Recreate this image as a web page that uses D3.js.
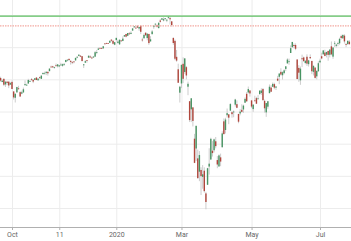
<!DOCTYPE html>
<html>
<head>
<meta charset="utf-8">
<script src="https://cdn.jsdelivr.net/npm/d3@7"></script>
<style>
  body { margin: 0; background: #fff; }
  svg { display: block; }
  .tick text { font-family: Roboto, "DejaVu Sans", sans-serif; }
</style>
</head>
<body>
<div id="chart"></div>
<script>
// daily bars, Sep 2019 - Jul 2020
const dates = [
  "2019-09-19","2019-09-20","2019-09-23","2019-09-24","2019-09-25","2019-09-26","2019-09-27","2019-09-30",
  "2019-10-01","2019-10-02","2019-10-03","2019-10-04","2019-10-07","2019-10-08","2019-10-09","2019-10-10","2019-10-11","2019-10-14","2019-10-15","2019-10-16","2019-10-17","2019-10-18","2019-10-21","2019-10-22","2019-10-23","2019-10-24","2019-10-25","2019-10-28","2019-10-29","2019-10-30","2019-10-31",
  "2019-11-01","2019-11-04","2019-11-05","2019-11-06","2019-11-07","2019-11-08","2019-11-11","2019-11-12","2019-11-13","2019-11-14","2019-11-15","2019-11-18","2019-11-19","2019-11-20","2019-11-21","2019-11-22","2019-11-25","2019-11-26","2019-11-27","2019-11-29",
  "2019-12-02","2019-12-03","2019-12-04","2019-12-05","2019-12-06","2019-12-09","2019-12-10","2019-12-11","2019-12-12","2019-12-13","2019-12-16","2019-12-17","2019-12-18","2019-12-19","2019-12-20","2019-12-23","2019-12-24","2019-12-26","2019-12-27","2019-12-30","2019-12-31",
  "2020-01-02","2020-01-03","2020-01-06","2020-01-07","2020-01-08","2020-01-09","2020-01-10","2020-01-13","2020-01-14","2020-01-15","2020-01-16","2020-01-17","2020-01-21","2020-01-22","2020-01-23","2020-01-24","2020-01-27","2020-01-28","2020-01-29","2020-01-30","2020-01-31",
  "2020-02-03","2020-02-04","2020-02-05","2020-02-06","2020-02-07","2020-02-10","2020-02-11","2020-02-12","2020-02-13","2020-02-14","2020-02-18","2020-02-19","2020-02-20","2020-02-21","2020-02-24","2020-02-25","2020-02-26","2020-02-27","2020-02-28",
  "2020-03-02","2020-03-03","2020-03-04","2020-03-05","2020-03-06","2020-03-09","2020-03-10","2020-03-11","2020-03-12","2020-03-13","2020-03-16","2020-03-17","2020-03-18","2020-03-19","2020-03-20","2020-03-23","2020-03-24","2020-03-25","2020-03-26","2020-03-27","2020-03-30","2020-03-31",
  "2020-04-01","2020-04-02","2020-04-03","2020-04-06","2020-04-07","2020-04-08","2020-04-09","2020-04-13","2020-04-14","2020-04-15","2020-04-16","2020-04-17","2020-04-20","2020-04-21","2020-04-22","2020-04-23","2020-04-24","2020-04-27","2020-04-28","2020-04-29","2020-04-30",
  "2020-05-01","2020-05-04","2020-05-05","2020-05-06","2020-05-07","2020-05-08","2020-05-11","2020-05-12","2020-05-13","2020-05-14","2020-05-15","2020-05-18","2020-05-19","2020-05-20","2020-05-21","2020-05-22","2020-05-26","2020-05-27","2020-05-28","2020-05-29",
  "2020-06-01","2020-06-02","2020-06-03","2020-06-04","2020-06-05","2020-06-08","2020-06-09","2020-06-10","2020-06-11","2020-06-12","2020-06-15","2020-06-16","2020-06-17","2020-06-18","2020-06-19","2020-06-22","2020-06-23","2020-06-24","2020-06-25","2020-06-26","2020-06-29","2020-06-30",
  "2020-07-01","2020-07-02","2020-07-06","2020-07-07","2020-07-08","2020-07-09","2020-07-10","2020-07-13","2020-07-14","2020-07-15","2020-07-16","2020-07-17","2020-07-20","2020-07-21","2020-07-22","2020-07-23","2020-07-24","2020-07-27","2020-07-28"
];

const opens = [
  3010.4,3008.4,2983.5,3002.4,2968.4,2985.7,2985.5,2967.1,
  2983.7,2924.8,2885.4,2918.6,2944.2,2920.4,2911.1,2918.6,2963.1,2965.8,2973.6,2989.7,3000.8,2996.8,2996.5,3010.7,2994.0,3014.8,3003.3,3032.1,3035.4,3039.7,3046.9,
  3050.7,3079.0,3080.8,3075.1,3087.0,3081.3,3080.3,3089.3,3084.2,3090.8,3107.9,3117.9,3127.5,3114.7,3108.5,3111.4,3117.4,3134.9,3145.5,3147.2,
  3143.9,3087.4,3103.5,3119.2,3134.6,3141.9,3135.4,3135.8,3141.2,3166.7,3183.6,3195.4,3195.2,3192.3,3223.3,3226.1,3225.5,3227.2,3247.2,3240.1,3215.2,
  3244.7,3226.4,3217.6,3241.9,3238.6,3266.0,3281.8,3271.1,3285.4,3282.3,3303.0,3323.7,3321.0,3330.0,3315.8,3333.1,3247.2,3255.4,3289.5,3256.5,3282.3,
  3235.7,3280.6,3324.9,3344.9,3335.5,3318.3,3365.9,3370.5,3365.9,3378.1,3369.0,3380.4,3380.5,3360.5,3257.6,3238.9,3139.9,3062.5,2916.9,
  2974.3,3096.5,3045.8,3075.7,2954.2,2863.9,2813.5,2825.6,2630.9,2570.0,2508.6,2425.7,2436.5,2393.5,2431.9,2290.7,2344.4,2457.8,2501.3,2555.9,2559.0,2614.7,
  2498.1,2458.5,2514.9,2578.3,2738.7,2685.0,2777.0,2782.5,2805.1,2795.6,2799.3,2842.4,2845.6,2784.8,2787.9,2810.4,2812.6,2854.7,2910.0,2918.5,2930.9,
  2869.1,2815.0,2868.9,2883.1,2878.3,2908.8,2915.5,2939.5,2865.9,2794.5,2830.0,2913.9,2948.6,2953.6,2970.0,2948.1,3004.1,3015.7,3046.6,3025.2,
  3038.8,3064.8,3098.9,3111.6,3163.8,3199.9,3213.3,3213.4,3123.5,3071.0,2993.8,3131.0,3136.1,3101.6,3140.3,3094.4,3138.7,3114.4,3046.6,3073.2,3018.6,3050.2,
  3105.9,3143.6,3155.3,3166.4,3153.1,3176.2,3152.5,3205.1,3141.1,3226.0,3208.4,3224.2,3224.3,3268.5,3254.9,3271.6,3218.6,3219.8,3234.3
];

const highs = [
  3022.0,3016.4,2999.2,3008.0,2989.8,2987.3,2987.3,2983.9,
  2992.5,2924.8,2911.1,2953.7,2959.8,2925.5,2929.3,2948.5,2993.3,2972.8,3003.3,2997.5,3008.3,3000.0,3007.3,3014.6,3004.8,3016.1,3027.4,3044.1,3047.9,3050.1,3046.9,
  3067.0,3085.2,3084.0,3078.3,3097.8,3093.1,3088.3,3102.6,3098.1,3097.8,3120.5,3124.2,3127.6,3119.0,3110.1,3112.9,3133.8,3142.7,3154.3,3150.3,
  3144.3,3095.0,3119.4,3119.5,3150.6,3148.9,3142.1,3144.0,3176.3,3182.7,3197.7,3198.2,3198.5,3205.5,3225.7,3227.8,3226.4,3240.1,3247.9,3240.9,3231.7,
  3258.1,3246.2,3246.8,3244.9,3267.1,3275.6,3283.0,3288.1,3294.3,3298.7,3317.1,3329.9,3329.8,3337.8,3326.9,3333.2,3258.9,3285.8,3293.5,3285.9,3282.3,
  3268.4,3306.9,3337.6,3348.0,3341.4,3352.3,3375.6,3381.5,3385.1,3380.7,3375.0,3393.5,3389.2,3360.8,3259.8,3247.0,3182.5,3097.1,2959.7,
  3091.0,3136.7,3131.0,3083.0,2985.9,2863.9,2882.6,2825.6,2661.0,2711.3,2563.0,2553.9,2453.6,2467.0,2453.0,2300.7,2449.7,2571.4,2637.0,2615.9,2631.8,2641.4,
  2522.8,2533.2,2538.2,2676.9,2756.9,2760.8,2818.6,2782.5,2851.9,2801.9,2806.5,2879.2,2869.0,2785.5,2815.1,2844.9,2842.7,2887.7,2921.2,2954.9,2930.9,
  2869.1,2844.2,2898.2,2891.1,2901.9,2932.2,2944.3,2945.8,2874.1,2852.8,2865.0,2968.1,2964.2,2980.3,2978.5,2956.8,3021.7,3036.3,3068.7,3049.2,
  3062.2,3081.1,3130.9,3128.9,3211.7,3233.1,3222.7,3223.3,3123.5,3088.4,3079.8,3153.5,3141.2,3120.0,3155.5,3120.9,3154.9,3115.0,3086.3,3073.7,3053.9,3111.5,
  3128.4,3165.8,3182.6,3184.2,3171.8,3179.8,3186.8,3235.3,3201.0,3238.3,3220.4,3233.5,3258.6,3277.3,3279.3,3280.0,3227.3,3241.4,3243.7
];

const lows = [
  3003.2,2984.7,2982.2,2957.7,2952.9,2963.7,2945.5,2967.1,
  2938.7,2874.9,2855.9,2918.6,2935.7,2892.7,2907.4,2917.1,2963.1,2962.9,2973.6,2985.2,2991.8,2976.3,2995.4,2995.0,2991.2,3000.4,3001.9,3032.1,3034.8,3026.0,3023.2,
  3050.7,3074.9,3072.2,3065.9,3080.2,3073.6,3075.8,3084.7,3078.8,3083.3,3104.6,3112.1,3113.5,3091.4,3094.6,3099.3,3117.4,3131.0,3143.4,3139.3,
  3110.8,3070.3,3102.5,3103.8,3134.6,3135.5,3126.1,3133.2,3138.5,3156.5,3183.6,3191.0,3191.1,3192.3,3216.0,3222.3,3220.5,3227.2,3234.4,3216.6,3212.0,
  3235.5,3222.3,3214.6,3232.4,3236.7,3263.7,3260.9,3268.4,3277.2,3280.7,3302.8,3318.9,3316.6,3320.0,3301.9,3281.5,3234.5,3253.2,3271.9,3242.8,3214.7,
  3235.7,3280.6,3313.8,3334.4,3322.1,3317.8,3352.7,3369.7,3360.5,3366.2,3355.6,3378.8,3341.0,3328.5,3214.7,3118.8,3109.0,2977.4,2855.8,
  2945.2,2976.6,3034.4,2999.8,2901.5,2734.4,2734.0,2707.2,2478.9,2492.4,2380.9,2367.0,2280.5,2319.8,2295.6,2191.9,2344.4,2407.5,2500.7,2520.0,2545.3,2571.2,
  2447.5,2455.8,2460.0,2574.6,2657.7,2663.3,2762.4,2721.2,2805.1,2761.5,2764.3,2830.9,2820.4,2727.1,2776.0,2794.3,2791.8,2852.9,2860.7,2912.2,2892.5,
  2821.6,2797.9,2863.6,2847.7,2876.5,2902.9,2903.4,2869.6,2793.2,2766.6,2816.8,2913.9,2922.4,2953.6,2938.6,2933.6,2988.2,2969.8,3023.4,2998.6,
  3031.5,3051.6,3098.9,3090.4,3163.8,3196.0,3193.1,3181.5,2999.5,2984.5,2965.7,3076.1,3108.0,3093.5,3083.1,3079.4,3127.1,3032.1,3024.0,3004.6,2999.7,3047.8,
  3101.2,3124.5,3155.3,3142.9,3136.5,3115.7,3136.2,3149.4,3127.7,3200.8,3198.6,3205.7,3215.2,3247.8,3253.1,3222.7,3200.1,3214.3,3216.2
];

const closes = [
  3006.8,2992.1,2991.8,2966.6,2984.9,2977.6,2961.8,2976.7,
  2940.3,2887.6,2910.6,2952.0,2938.8,2893.1,2919.4,2938.1,2970.3,2966.2,2995.7,2989.7,2998.0,2986.2,3006.7,2996.0,3004.5,3010.3,3022.6,3039.4,3036.9,3046.8,3037.6,
  3066.9,3078.3,3074.6,3076.8,3085.2,3093.1,3087.0,3091.8,3094.0,3096.6,3120.5,3122.0,3120.2,3108.5,3103.5,3110.3,3133.6,3140.5,3153.6,3141.0,
  3113.9,3093.2,3112.8,3117.4,3145.9,3136.0,3132.5,3141.6,3168.6,3168.8,3191.5,3192.5,3191.1,3205.4,3221.2,3224.0,3223.4,3239.9,3240.0,3221.3,3230.8,
  3257.9,3234.9,3246.3,3237.2,3253.1,3274.7,3265.4,3288.1,3283.2,3289.3,3316.8,3329.6,3320.8,3321.8,3325.5,3295.5,3243.6,3276.2,3273.4,3283.7,3225.5,
  3248.9,3297.6,3334.7,3345.8,3327.7,3352.1,3357.8,3379.5,3373.9,3380.2,3370.3,3386.2,3373.2,3337.8,3225.9,3128.2,3116.4,2978.8,2954.2,
  3090.2,3003.4,3130.1,3023.9,2972.4,2746.6,2882.2,2741.4,2480.6,2711.0,2386.1,2529.2,2398.1,2409.4,2304.9,2237.4,2447.3,2475.6,2630.1,2541.5,2626.7,2584.6,
  2470.5,2526.9,2488.7,2663.7,2659.4,2750.0,2789.8,2761.6,2846.1,2783.4,2799.6,2874.6,2823.2,2736.6,2799.3,2797.8,2836.7,2878.5,2863.4,2939.5,2912.4,
  2830.7,2842.7,2868.4,2848.4,2881.2,2929.8,2930.3,2870.1,2820.0,2852.5,2863.7,2953.9,2922.9,2971.6,2948.5,2955.5,2991.8,3036.1,3029.7,3044.3,
  3055.7,3080.8,3122.9,3112.4,3193.9,3232.4,3207.2,3190.1,3002.1,3041.3,3066.6,3124.7,3113.5,3115.3,3097.7,3117.9,3131.3,3050.3,3083.8,3009.1,3053.2,3100.3,
  3115.9,3130.0,3179.7,3145.3,3169.9,3152.1,3185.0,3155.2,3197.5,3226.6,3215.6,3224.7,3251.8,3257.3,3276.0,3235.7,3215.6,3239.4,3218.4
];

const tickDates = ["2019-10-01", "2019-11-11", "2020-01-02", "2020-03-02", "2020-05-01", "2020-07-01"];
const tickLabels = ["Oct", "11", "2020", "Mar", "May", "Jul"];
const priceTicks = [2200, 2400, 2600, 2800, 3000, 3200, 3400];
const highLevel = 3393.5;   // green line
const markLevel = 3332;     // dotted line

const WIDTH = 351, HEIGHT = 241;
const AXIS_Y = 227;

const candles = dates.map((d, i) => ({
    i: i, date: d, o: opens[i], h: highs[i], l: lows[i], c: closes[i]
}));

const x = d3.scaleLinear()
    .domain([dates.indexOf(tickDates[0]), dates.indexOf(tickDates[5])])
    .range([12, 320]);

const y = d3.scaleLinear()
    .domain([2200, 3400])
    .range([208, 15]);

const svg = d3.select("#chart").append("svg")
    .attr("width", WIDTH)
    .attr("height", HEIGHT);

const tickIdx = tickDates.map(d => dates.indexOf(d));

// grid
svg.append("g")
    .attr("class", "grid-x")
    .attr("transform", "translate(0," + AXIS_Y + ")")
    .call(d3.axisBottom(x).tickValues(tickIdx).tickSize(-AXIS_Y).tickFormat(""))
    .call(g => g.select(".domain").remove())
    .call(g => g.selectAll("line").attr("stroke", "#ececec"));

svg.append("g")
    .attr("class", "grid-y")
    .call(d3.axisRight(y).tickValues(priceTicks).tickSize(WIDTH).tickFormat(""))
    .call(g => g.select(".domain").remove())
    .call(g => g.selectAll("line").attr("stroke", "#ececec"));

// candles
const bodyW = 1.4;
const cg = svg.append("g").attr("class", "candles");

cg.selectAll(".wick")
    .data(candles)
    .enter().append("line")
    .attr("class", "wick")
    .attr("x1", d => x(d.i))
    .attr("x2", d => x(d.i))
    .attr("y1", d => y(d.h))
    .attr("y2", d => y(d.l))
    .attr("stroke", "#c0c0c0")
    .attr("stroke-width", 0.8);

cg.selectAll(".body")
    .data(candles)
    .enter().append("rect")
    .attr("class", "body")
    .attr("x", d => x(d.i) - bodyW / 2)
    .attr("y", d => y(Math.max(d.o, d.c)))
    .attr("width", bodyW)
    .attr("height", d => Math.max(0.8, Math.abs(y(d.o) - y(d.c))))
    .attr("fill", d => d.c >= d.o ? "#489463" : "#b0463c");

// reference lines
svg.append("line")
    .attr("x1", 0).attr("x2", WIDTH)
    .attr("y1", y(highLevel)).attr("y2", y(highLevel))
    .attr("stroke", "#5cbf60")
    .attr("stroke-width", 1.3);

svg.append("line")
    .attr("x1", 0).attr("x2", WIDTH)
    .attr("y1", y(markLevel)).attr("y2", y(markLevel))
    .attr("stroke", "#f4aaa2")
    .attr("stroke-width", 1.2)
    .attr("stroke-dasharray", "1.5,1");

// x axis
svg.append("g")
    .attr("class", "xAxis")
    .attr("transform", "translate(0," + AXIS_Y + ")")
    .call(d3.axisBottom(x).tickValues(tickIdx).tickSize(3).tickPadding(2)
        .tickFormat((d, k) => tickLabels[k]))
    .call(g => g.select(".domain").attr("stroke", "#b0b0b0").attr("d", "M0,0.5H" + WIDTH))
    .call(g => g.selectAll(".tick line").attr("stroke", "#b0b0b0"))
    .call(g => g.selectAll(".tick text").attr("fill", "#666").attr("font-size", 7));
</script>
</body>
</html>
